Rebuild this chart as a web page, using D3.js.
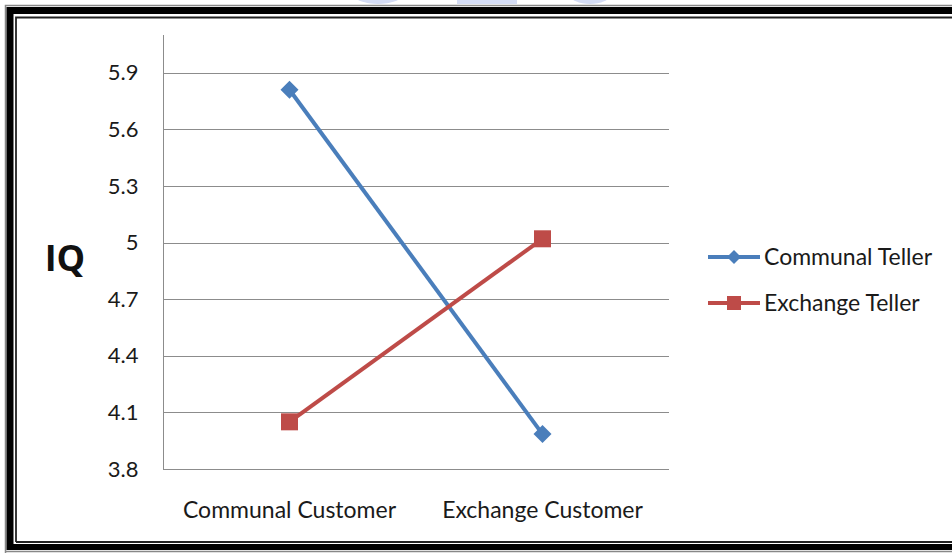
<!DOCTYPE html>
<html>
<head>
<meta charset="utf-8">
<script src="https://cdn.jsdelivr.net/npm/d3@7"></script>
<style>
  body { margin: 0; background: #fff; }
  svg { display: block; font-family: Lato, "Open Sans", sans-serif; }
</style>
</head>
<body>
<div id="chart"></div>
<script>
// Chart data
var categories = ['Communal Customer', 'Exchange Customer'];
var seriesNames = ['Communal Teller', 'Exchange Teller'];
var communalTeller = [5.81, 3.985];
var exchangeTeller = [4.05, 5.02];
var yTicks = [3.8, 4.1, 4.4, 4.7, 5, 5.3, 5.6, 5.9];

var width = 952, height = 554;
var plot = {left: 163, right: 669, top: 35, bottom: 469};

var svg = d3.select('#chart')
    .append('svg')
        .attr('width', width)
        .attr('height', height);

// faint watermark shapes peeking in at the top
var wm = svg.append('g').attr('fill', '#d3dbf3');
wm.append('ellipse').attr('cx', 378).attr('cy', -5).attr('rx', 24).attr('ry', 9);
wm.append('rect').attr('x', 457).attr('y', -2).attr('width', 60).attr('height', 6);
wm.append('ellipse').attr('cx', 590).attr('cy', -5).attr('rx', 20).attr('ry', 9);

// frame: grey outer edge, thick black band, thin inner line
svg.append('path')
    .attr('d', 'M5.5,553 V5.5 H952')
    .attr('fill', 'none').attr('stroke', '#888').attr('stroke-width', 1.5);
svg.append('path')
    .attr('d', 'M10,550 V10.5 H952')
    .attr('fill', 'none').attr('stroke', '#000').attr('stroke-width', 7);
svg.append('path')
    .attr('d', 'M10,547 H952')
    .attr('fill', 'none').attr('stroke', '#000').attr('stroke-width', 6);
svg.append('path')
    .attr('d', 'M16,542 V17.5 H952 M16,542 H952')
    .attr('fill', 'none').attr('stroke', '#222').attr('stroke-width', 1.8);
svg.append('line')
    .attr('x1', 6).attr('x2', 952).attr('y1', 551.5).attr('y2', 551.5)
    .attr('stroke', '#888').attr('stroke-width', 1.5);

// scales
var x = d3.scaleBand()
    .domain(categories)
    .range([plot.left, plot.right]);

var y = d3.scaleLinear()
    .domain([3.8, 6.1])
    .range([plot.bottom, plot.top]);

// gridlines
svg.append('g')
    .selectAll('line')
    .data(yTicks.slice(1))
    .enter().append('line')
        .attr('x1', plot.left).attr('x2', plot.right)
        .attr('y1', function(d){ return Math.round(y(d)) + 0.5; })
        .attr('y2', function(d){ return Math.round(y(d)) + 0.5; })
        .attr('stroke', '#8c8c8c')
        .attr('stroke-width', 1);

// y axis
var yAxisCall = d3.axisLeft(y)
    .tickValues(yTicks)
    .tickSize(0)
    .tickPadding(25)
    .tickFormat(function(d){ return d3.format('')(d); });

var yAxis = svg.append('g')
    .attr('transform', 'translate(' + (plot.left + 0.5) + ',0)')
    .call(yAxisCall);
yAxis.select('.domain').remove();
yAxis.selectAll('text')
    .attr('font-family', 'Lato, sans-serif')
    .attr('font-size', '22px')
    .attr('fill', '#1a1a1a');

// axis lines
svg.append('line')
    .attr('x1', plot.left + 0.5).attr('x2', plot.left + 0.5)
    .attr('y1', plot.top).attr('y2', plot.bottom + 0.5)
    .attr('stroke', '#8c8c8c');
svg.append('line')
    .attr('x1', plot.left).attr('x2', plot.right)
    .attr('y1', Math.round(y(3.8)) + 0.5).attr('y2', Math.round(y(3.8)) + 0.5)
    .attr('stroke', '#8c8c8c');

// x axis labels
var xAxisCall = d3.axisBottom(x).tickSize(0).tickPadding(33);
var xAxis = svg.append('g')
    .attr('transform', 'translate(0,' + plot.bottom + ')')
    .call(xAxisCall);
xAxis.select('.domain').remove();
xAxis.selectAll('text')
    .attr('font-family', 'Lato, sans-serif')
    .attr('font-size', '23px')
    .attr('fill', '#1a1a1a');

// y axis title
svg.append('text')
    .attr('x', 65)
    .attr('y', 271)
    .attr('text-anchor', 'middle')
    .attr('font-family', '"Open Sans", sans-serif')
    .attr('font-weight', 'bold')
    .attr('font-size', '36px')
    .attr('fill', '#111')
    .text('IQ');

// series
var diamond = function(r){ return 'M0,' + (-r) + 'L' + r + ',0L0,' + r + 'L' + (-r) + ',0Z'; };
var square = function(r){ return 'M' + (-r) + ',' + (-r) + 'H' + r + 'V' + r + 'H' + (-r) + 'Z'; };

var series = [
    {name: seriesNames[0], values: communalTeller, color: '#4a7ebb', shape: diamond, r: 9, lr: 7},
    {name: seriesNames[1], values: exchangeTeller, color: '#be4b48', shape: square, r: 8.5, lr: 7}
];

var line = d3.line()
    .x(function(d, i){ return x(categories[i]) + x.bandwidth() / 2; })
    .y(function(d){ return y(d); });

series.forEach(function(s){
    svg.append('path')
        .datum(s.values)
        .attr('d', line)
        .attr('fill', 'none')
        .attr('stroke', s.color)
        .attr('stroke-width', 4);

    svg.selectAll(null)
        .data(s.values)
        .enter().append('path')
            .attr('transform', function(d, i){
                return 'translate(' + (x(categories[i]) + x.bandwidth() / 2) + ',' + y(d) + ')';
            })
            .attr('d', s.shape(s.r))
            .attr('fill', s.color);
});

// legend
var legend = svg.append('g')
    .selectAll('g')
    .data(series)
    .enter().append('g')
        .attr('transform', function(d, i){ return 'translate(708,' + (257 + i * 46) + ')'; });

legend.append('line')
    .attr('x1', 0).attr('x2', 52)
    .attr('stroke', function(d){ return d.color; })
    .attr('stroke-width', 4);
legend.append('path')
    .attr('transform', 'translate(26,0)')
    .attr('d', function(d){ return d.shape(d.lr); })
    .attr('fill', function(d){ return d.color; });
legend.append('text')
    .attr('x', 56)
    .attr('y', 8)
    .attr('font-family', 'Lato, sans-serif')
    .attr('font-size', '23px')
    .attr('fill', '#1a1a1a')
    .text(function(d){ return d.name; });
</script>
</body>
</html>
